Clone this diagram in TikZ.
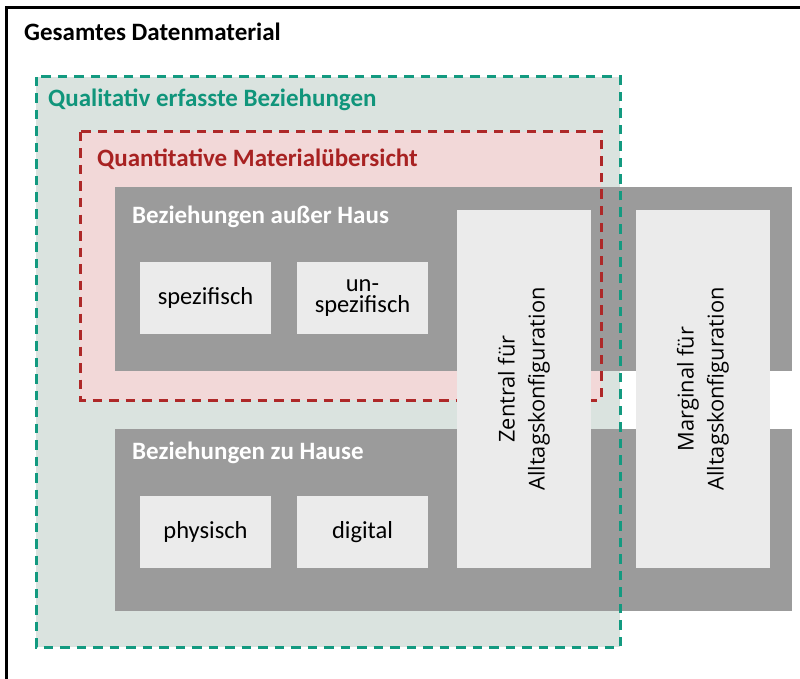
\documentclass[tikz,border=0pt]{standalone}
\usepackage{fontspec}
\setmainfont{Carlito}
\newfontfamily\rotfont{Open Sans}
\definecolor{tealline}{HTML}{139A80}
\definecolor{tealtext}{HTML}{10957B}
\definecolor{greenfill}{HTML}{DAE3DF}
\definecolor{redline}{HTML}{AE2828}
\definecolor{redtext}{HTML}{A82222}
\definecolor{redfill}{HTML}{F2D8D8}
\definecolor{graybox}{HTML}{9B9B9B}
\definecolor{lightbox}{HTML}{EBEBEB}
\tikzset{
  area/.style={rectangle, anchor=north west, inner sep=0pt, outer sep=0pt},
  dashline/.style={line width=3pt, dash pattern=on 9.5pt off 7pt},
  heading/.style={anchor=west, inner sep=0pt, font=\bfseries\fontsize{25}{28}\selectfont},
  itembox/.style={rectangle, fill=lightbox, inner sep=0pt, outer sep=0pt, align=center,
    font=\fontsize{24.5}{21}\selectfont},
  rotlabel/.style={rotate=90, align=center, inner sep=0pt, font=\rotfont\fontsize{21.8}{30}\selectfont}
}
\begin{document}
\begin{tikzpicture}[x=1pt,y=-1pt]
\useasboundingbox (0,0) rectangle (800,679);
\clip (0,0) rectangle (800,679);
\fill[white] (0,0) rectangle (800,679);
% outer frame
\draw[line width=3pt] (6,8) rectangle (830,720);
\node[heading] (tall) at (24,32) {Gesamtes Datenmaterial};
% regions (fills)
\node[area, fill=greenfill, minimum width=584pt, minimum height=570pt] (qual) at (36,77) {};
\node[area, fill=redfill, minimum width=521pt, minimum height=268pt] (quant) at (80,132) {};
\node[heading, text=tealtext] (qualt) at (48,100) {Qualitativ erfasste Beziehungen};
\node[heading, text=redtext] (quantt) at (97,159) {Quantitative Materialübersicht};
% gray boxes
\node[area, fill=graybox, minimum width=677pt, minimum height=184pt] (aus) at (115,187) {};
\node[area, fill=graybox, minimum width=677pt, minimum height=182pt] (zu) at (115,429) {};
\node[heading, text=white] (aust) at (132,217) {Beziehungen außer Haus};
\node[heading, text=white] (zut) at (132,453) {Beziehungen zu Hause};
% dashed outlines
\draw[dashline, tealline] (qual.north west) rectangle (qual.south east);
\draw[dashline, redline] (quant.north west) rectangle (quant.south east);
% item boxes
\node[itembox, minimum width=131pt, minimum height=72pt] (spez) at (205.5,298) {spezifisch};
\node[itembox, minimum width=131pt, minimum height=72pt] (unspez) at (362.5,298) {un-\\spezifisch};
\node[itembox, minimum width=131pt, minimum height=72pt] (phys) at (205.5,532) {physisch};
\node[itembox, minimum width=131pt, minimum height=72pt] (dig) at (362.5,532) {digital};
\node[itembox, minimum width=134pt, minimum height=358pt] (zen) at (524,389) {};
\node[itembox, minimum width=134pt, minimum height=358pt] (mar) at (703,389) {};
\node[rotlabel] (zent) at (zen.center) {Zentral für\\Alltagskonfiguration};
\node[rotlabel] (mart) at (mar.center) {Marginal für\\Alltagskonfiguration};
\end{tikzpicture}
\end{document}
